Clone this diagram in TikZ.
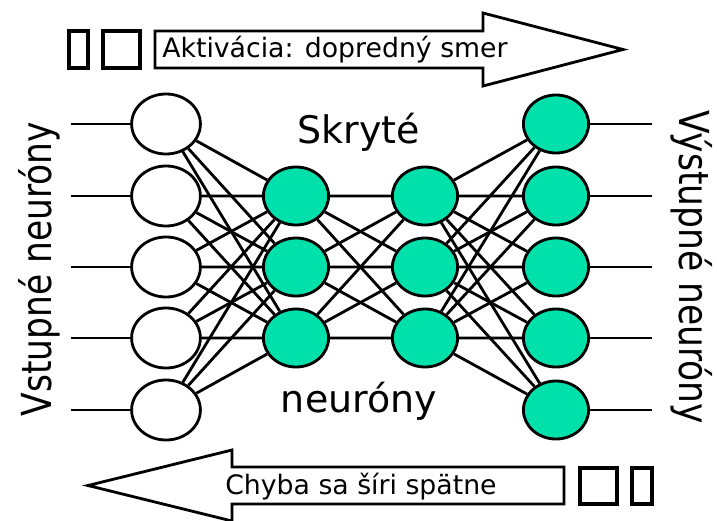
\documentclass[tikz,border=0pt]{standalone}
\usepackage{fontspec}
\setmainfont{DejaVu Sans}
\usetikzlibrary{shapes.geometric}
\definecolor{neurongreen}{RGB}{0,224,170}
\tikzset{
	inneuron/.style={ellipse, draw, fill=white, line width=2pt, minimum width=1.72cm, minimum height=1.5cm},
	gneuron/.style={ellipse, draw, fill=neurongreen, line width=2pt, minimum width=1.63cm, minimum height=1.45cm},
	wire/.style={line width=2pt},
	blockarrow/.style={line width=2pt, line join=miter, fill=white},
	tinybox/.style={line width=2.2pt},
	bigtext/.style={font=\fontsize{27}{30}\selectfont, inner sep=0pt},
	sidetext/.style={font=\fontsize{24.5}{28}\selectfont, inner sep=0pt, xscale=1.2, transform shape},
	arrowtext/.style={font=\fontsize{19}{22}\selectfont, inner sep=0pt}
}

\begin{document}
\begin{tikzpicture}[x=0.025cm, y=-0.025cm]
			%%%%% START %%%%%
			\useasboundingbox (0,0) rectangle (717,520);
			
			% forward arrow with its two boxes
			\draw[tinybox] (69,31) rectangle (88,68);
			\draw[tinybox] (103,31) rectangle (140,68);
			\draw[blockarrow] (155,31) -- (483,31) -- (483,13) -- (623,49.5) -- (483,86) -- (483,68) -- (155,68) -- cycle;
			\node[arrowtext, anchor=base west] (fwdlabel) at (162,57) {Aktivácia: dopredný smer};
			
			% backward arrow with its two boxes
			\draw[blockarrow] (564,467) -- (232,467) -- (232,450) -- (88,485.5) -- (232,521) -- (232,504) -- (564,504) -- cycle;
			\draw[tinybox] (580,468) rectangle (617,504);
			\draw[tinybox] (632,468) rectangle (652,504);
			\node[arrowtext, anchor=base west] (backlabel) at (225,494) {Chyba sa šíri spätne};
			
			% input layer
			\node[inneuron] (i1) at (166,124) {};
			\node[inneuron] (i2) at (166,196) {};
			\node[inneuron] (i3) at (166,267) {};
			\node[inneuron] (i4) at (166,338) {};
			\node[inneuron] (i5) at (166,410) {};
			
			% hidden layers
			\node[gneuron] (h1) at (296,196) {};
			\node[gneuron] (h2) at (296,267) {};
			\node[gneuron] (h3) at (296,338) {};
			
			\node[gneuron] (g1) at (425,196) {};
			\node[gneuron] (g2) at (425,267) {};
			\node[gneuron] (g3) at (425,338) {};
			
			% output layer
			\node[gneuron] (o1) at (556,124) {};
			\node[gneuron] (o2) at (556,196) {};
			\node[gneuron] (o3) at (556,267) {};
			\node[gneuron] (o4) at (556,338) {};
			\node[gneuron] (o5) at (556,410) {};
			
			% free ends of the input and output lines
			\coordinate (in1) at (71,124);
			\coordinate (in2) at (71,196);
			\coordinate (in3) at (71,267);
			\coordinate (in4) at (71,338);
			\coordinate (in5) at (71,410);
			\coordinate (out1) at (652,124);
			\coordinate (out2) at (652,196);
			\coordinate (out3) at (652,267);
			\coordinate (out4) at (652,338);
			\coordinate (out5) at (652,410);
			
			\draw[wire] (in1) -- (i1) (in2) -- (i2) (in3) -- (i3) (in4) -- (i4) (in5) -- (i5);
			\draw[wire] (o1) -- (out1) (o2) -- (out2) (o3) -- (out3) (o4) -- (out4) (o5) -- (out5);
			
			\draw[wire] (i1) -- (h1) (i1) -- (h2) (i1) -- (h3);
			\draw[wire] (i2) -- (h1) (i2) -- (h2) (i2) -- (h3);
			\draw[wire] (i3) -- (h1) (i3) -- (h2) (i3) -- (h3);
			\draw[wire] (i4) -- (h1) (i4) -- (h2) (i4) -- (h3);
			\draw[wire] (i5) -- (h1) (i5) -- (h2) (i5) -- (h3);
			
			\draw[wire] (h1) -- (g1) (h1) -- (g2) (h1) -- (g3);
			\draw[wire] (h2) -- (g1) (h2) -- (g2) (h2) -- (g3);
			\draw[wire] (h3) -- (g1) (h3) -- (g2) (h3) -- (g3);
			
			\draw[wire] (g1) -- (o1) (g1) -- (o2) (g1) -- (o3) (g1) -- (o4) (g1) -- (o5);
			\draw[wire] (g2) -- (o1) (g2) -- (o2) (g2) -- (o3) (g2) -- (o4) (g2) -- (o5);
			\draw[wire] (g3) -- (o1) (g3) -- (o2) (g3) -- (o3) (g3) -- (o4) (g3) -- (o5);
			
			% labels
			\node[bigtext, anchor=base] (hidtop) at (359,143) {Skryté};
			\node[bigtext, anchor=base] (hidbot) at (359,412) {neuróny};
			\node[sidetext, rotate=90, anchor=base] (inlabel) at (51,269) {Vstupné neuróny};
			\node[sidetext, rotate=-90, anchor=base] (outlabel) at (679,267) {Výstupné neuróny};
			%%%%% END %%%%%
\end{tikzpicture}
\end{document}
